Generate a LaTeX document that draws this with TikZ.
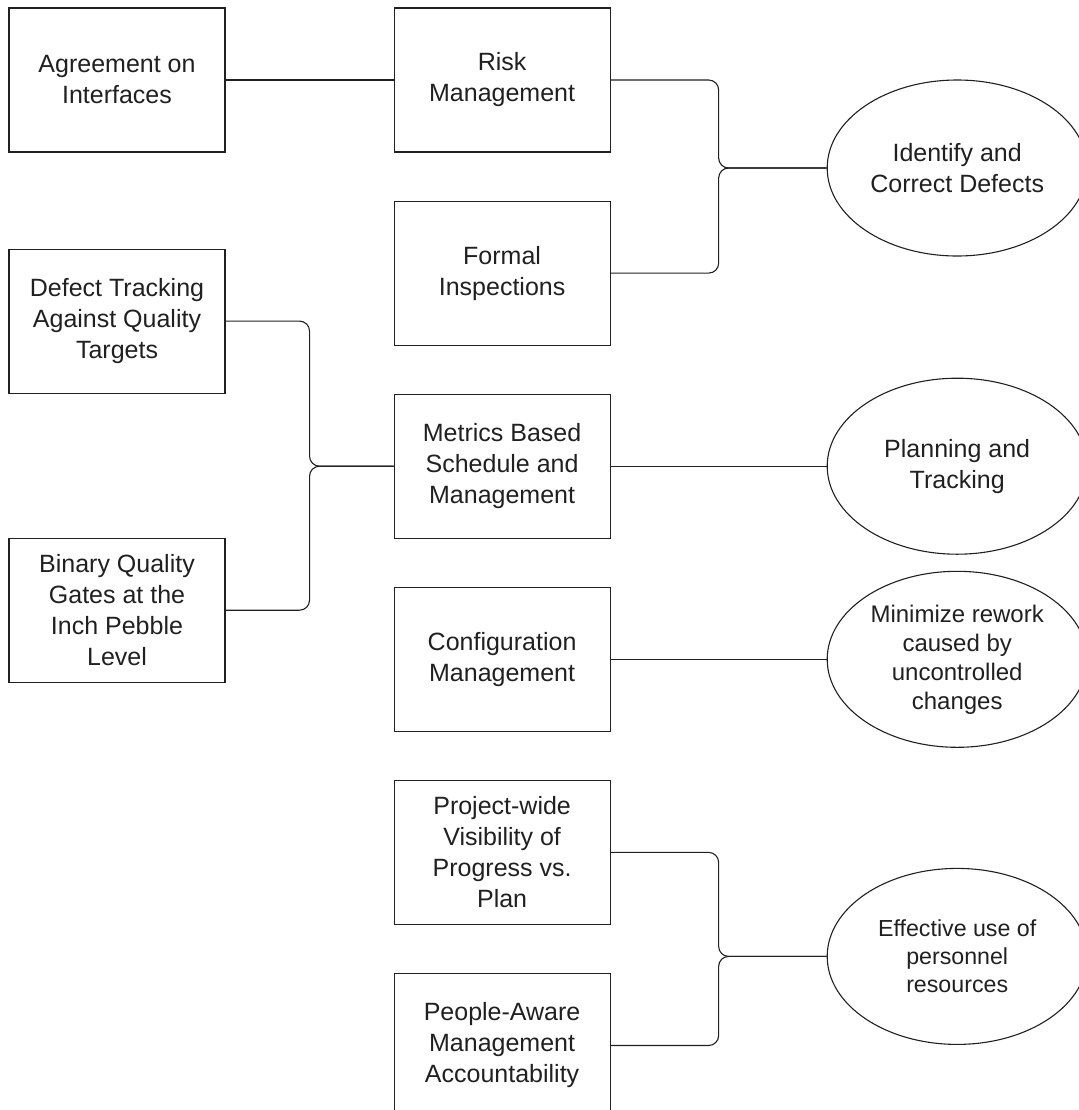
\documentclass[tikz,border=0pt]{standalone}
\usepackage{fontspec}
\setmainfont{Liberation Sans}
\usetikzlibrary{positioning,calc,shapes.geometric}
\definecolor{boxink}{HTML}{202020}

\begin{document}
\begin{tikzpicture}[
  x=0.5pt, y=-0.5pt,
  line width=0.55pt, color=boxink,
  box/.style={draw, rectangle, minimum width=108pt, minimum height=72pt,
              inner sep=2pt, align=center,
              font=\fontsize{12.5}{15.5}\selectfont},
  goal/.style={draw, ellipse, minimum width=130pt, minimum height=88pt,
               inner sep=0pt, align=center,
               font=\fontsize{12.5}{15.5}\selectfont},
  link/.style={rounded corners=5pt},
]
\useasboundingbox (0,0) rectangle (1079,1110);
\clip (0,0) rectangle (1079,1110);

% --- Left column ---
\node[box] (agree) at (117,80) {Agreement on\\Interfaces};
\node[box, below=48pt of agree]  (defect) {Defect Tracking\\Against Quality\\Targets};
\node[box, below=72pt of defect] (binary) {Binary Quality\\Gates at the\\Inch Pebble\\Level};

% --- Middle column ---
\node[box, right=84pt of agree]  (risk)    {Risk\\Management};
\node[box, below=24pt of risk]   (formal)  {Formal\\Inspections};
\node[box, below=24pt of formal] (metrics) {Metrics Based\\Schedule and\\Management};
\node[box, below=24pt of metrics] (config) {Configuration\\Management};
\node[box, below=24pt of config] (visib)   {Project-wide\\Visibility of\\Progress vs.\\Plan};
\node[box, below=24pt of visib]  (people)  {People-Aware\\Management\\Accountability};

% --- Goals (right) ---
\node[goal, anchor=west] (ident) at ($(risk.east)+(216,88)$) {Identify and\\Correct Defects};
\node[goal, right=108pt of metrics] (plan) {Planning and\\Tracking};
\node[goal, right=108pt of config, font=\fontsize{12}{14.5}\selectfont] (minim)
  {Minimize rework\\caused by\\uncontrolled\\changes};
\node[goal, anchor=west, font=\fontsize{11.6}{14}\selectfont] (effect)
  at ($(visib.east)+(216,104)$) {Effective use of\\personnel\\resources};

% Junctions of the bracket connectors
\coordinate (j1) at ($(ident.west)+(-108,0)$);
\coordinate (j2) at ($(metrics.west)+(-84,0)$);
\coordinate (j3) at ($(effect.west)+(-108,0)$);

% Connectors
\draw (agree.east) -- (risk.west);
\draw[link] (risk.east)   -| (j1) -- (ident.west);
\draw[link] (formal.east) -| (j1) -- (ident.west);
\draw[link] (defect.east) -| (j2) -- (metrics.west);
\draw[link] (binary.east) -| (j2) -- (metrics.west);
\draw (metrics.east) -- (plan.west);
\draw (config.east) -- (minim.west);
\draw[link] (visib.east)  -| (j3) -- (effect.west);
\draw[link] (people.east) -| (j3) -- (effect.west);
\end{tikzpicture}
\end{document}
